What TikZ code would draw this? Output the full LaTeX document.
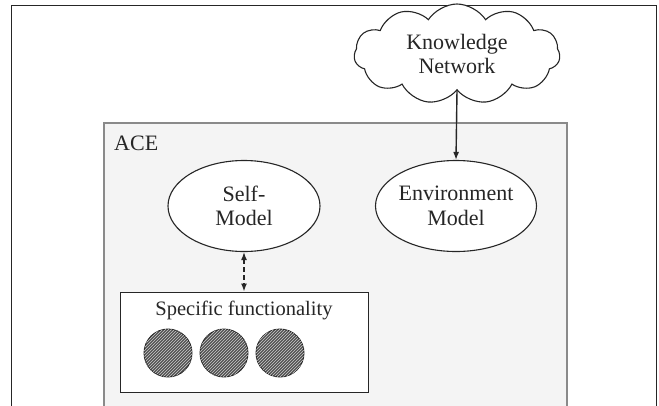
\documentclass[tikz,border=0pt]{standalone}
\usepackage{fontspec}
\setmainfont{Liberation Serif}
\usetikzlibrary{shapes.geometric,shapes.symbols,arrows.meta,patterns}
\definecolor{linec}{HTML}{262626}
\definecolor{acefill}{HTML}{F4F4F4}
\definecolor{aceline}{HTML}{8A8A8A}
\begin{document}
\begin{tikzpicture}[x=1pt,y=-1pt,
  lbl/.style={font=\fontsize{22}{24.5}\selectfont, text=linec, align=center, inner sep=0},
  oval/.style={draw=linec, line width=1.1pt, ellipse, fill=white, inner sep=0},
  disc/.style={circle, draw=linec, line width=0.9pt, fill=black!68, minimum size=48pt, inner sep=0,
    postaction={pattern=north east lines, pattern color=white!80!black}},
  conn/.style={draw=linec, line width=1.4pt}
]
\useasboundingbox (0,0) rectangle (659,405);
\fill[white] (0,0) rectangle (659,405);
\begin{scope}
\clip (0,0) rectangle (659,405);
% outer frame
\draw[linec, line width=1pt] (11,420) -- (11,5.5) -- (656.5,5.5) -- (656.5,420);
% ACE box
\draw[aceline, fill=acefill, line width=1.2pt] (104,420) -- (104,123) -- (567,123) -- (567,420);
\end{scope}
\node[lbl, anchor=west] (ace) at (114,143) {ACE};

% cloud
\node[cloud, cloud puffs=11, cloud puff arc=115, aspect=2.2, draw=linec, line width=1.1pt, fill=white,
  minimum width=206pt, minimum height=100pt, inner sep=0] (kn) at (457,54) {};
\node[lbl] (knt) at (kn.center) {Knowledge\\Network};

% ellipses
\node[oval, minimum width=152pt, minimum height=91pt] (self) at (244,206) {};
\node[lbl] (selft) at (self.center) {Self-\\Model};
\node[oval, minimum width=161pt, minimum height=91pt] (env) at (456,206) {};
\node[lbl] (envt) at (env.center) {Environment\\Model};

% specific functionality box
\node[draw=linec, line width=1pt, fill=white, minimum width=248pt, minimum height=100pt, inner sep=0] (sf) at (244,342) {};
\node[lbl, font=\fontsize{20.5}{24}\selectfont] (sft) at (244,310) {Specific functionality};
\node[disc] (d1) at (168,353) {};
\node[disc] (d2) at (224,353) {};
\node[disc] (d3) at (280,353) {};

% connectors
\draw[conn, -{Latex[length=8pt,width=6pt]}] (kn.south) -- (env.north);
\draw[conn, dashed, dash pattern=on 4.5pt off 3.5pt, {Latex[length=8pt,width=6pt]}-{Latex[length=8pt,width=6pt]}] (self.south) -- (sf.north);
\end{tikzpicture}
\end{document}
